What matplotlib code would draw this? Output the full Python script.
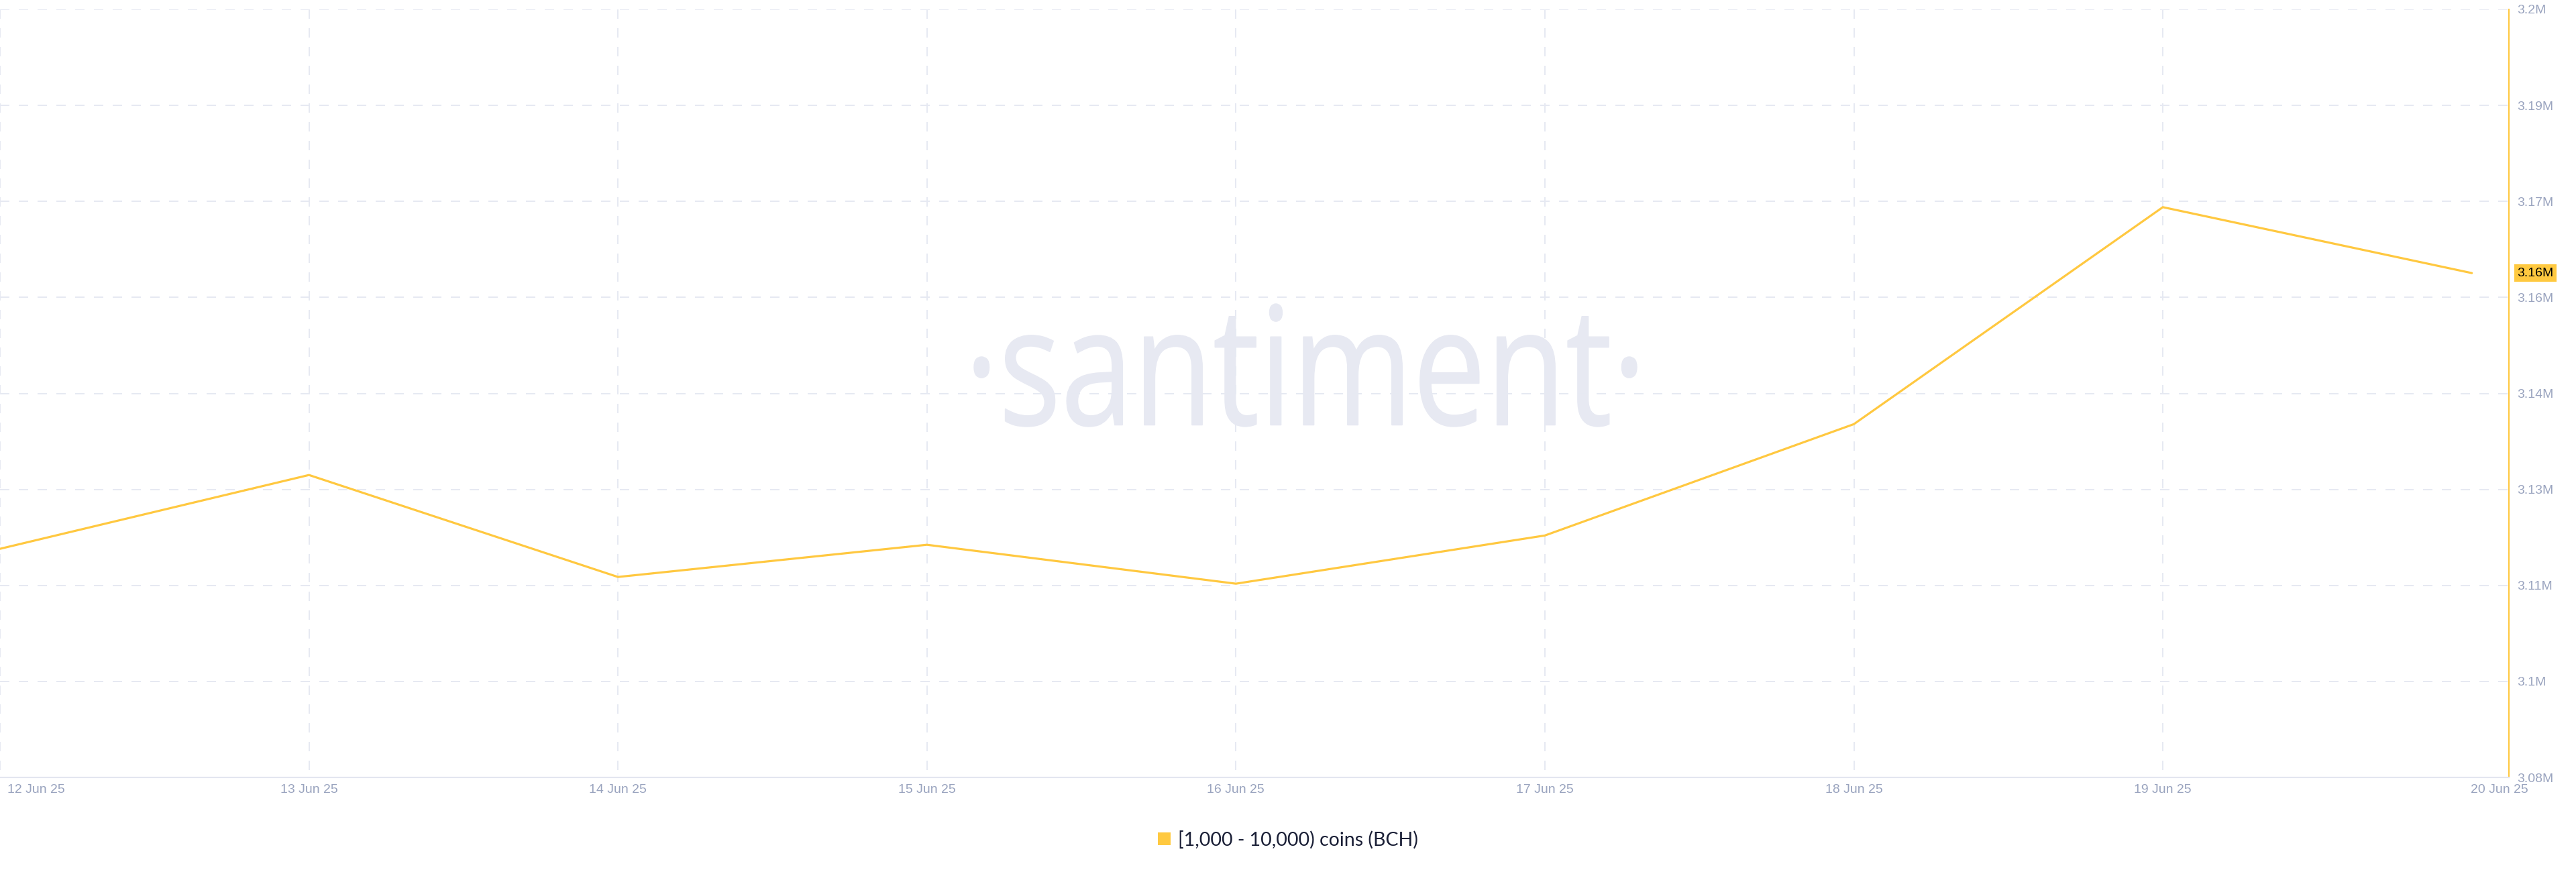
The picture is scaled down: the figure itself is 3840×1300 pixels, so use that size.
import matplotlib
matplotlib.use("Agg")
import matplotlib.pyplot as plt
from matplotlib.font_manager import FontProperties, fontManager
from matplotlib.textpath import TextPath
from matplotlib.patches import PathPatch, Patch
from matplotlib.transforms import Affine2D, IdentityTransform, ScaledTranslation, blended_transform_factory

# ---------------- data ----------------
dates = ["12 Jun 25", "13 Jun 25", "14 Jun 25", "15 Jun 25", "16 Jun 25",
         "17 Jun 25", "18 Jun 25", "19 Jun 25", "20 Jun 25"]
values = [3115720, 3127250, 3111320, 3116350, 3110270,
          3117800, 3135200, 3169100, 3158800]
y_ticks = [3080000, 3095000, 3110000, 3125000, 3140000,
           3155000, 3170000, 3185000, 3200000]
y_tick_labels = ["3.08M", "3.1M", "3.11M", "3.13M", "3.14M",
                 "3.16M", "3.17M", "3.19M", "3.2M"]
series_name = "[1,000 - 10,000) coins (BCH)"
watermark = "\u00b7santiment\u00b7"

# ---------------- style ----------------
W, H = 3840, 1300
DPI = 100
LINE_COLOR = "#FFC840"
GRID_COLOR = "#E6E9F2"
TICK_COLOR = "#9AA4BF"
AXIS_COLOR = "#E3E6F0"
WM_COLOR = "#E7E9F2"

avail = {f.name for f in fontManager.ttflist}
def pick(*names):
    return [n for n in names if n in avail] + ["DejaVu Sans"]

tick_font = pick("Liberation Sans", "Arial")
legend_font = pick("Lato", "Inter", "Liberation Sans")
wm_font = pick("Open Sans", "Noto Sans")

fig = plt.figure(figsize=(W / DPI, H / DPI), dpi=DPI)
fig.patch.set_facecolor("white")
ax = fig.add_axes([0, (H - 1159) / H, 3740 / W, (1159 - 14) / H])
ax.set_facecolor("none")

x = list(range(len(values)))
XMAX = 8.12
ax.set_xlim(0, XMAX)
ax.set_ylim(y_ticks[0], y_ticks[-1])

# watermark (drawn in pixel space, behind everything)
tp = TextPath((0, 0), watermark, size=100, prop=FontProperties(family=wm_font[0]))
ext = tp.get_extents()
x0, x1, ytop, ybot = 1452, 2440, 453, 636
tr = (Affine2D().translate(-ext.x0, -ext.y0)
      .scale((x1 - x0) / ext.width, (ybot - ytop) / ext.height)
      .translate(x0, H - ybot))
wm = PathPatch(tr.transform_path(tp), facecolor=WM_COLOR, edgecolor=WM_COLOR,
               linewidth=1.0, transform=IdentityTransform(), zorder=0.5)
ax.add_artist(wm)

# grid lines
dash = (0, (7, 7))
for yt in y_ticks[1:]:
    ax.axhline(yt, color=GRID_COLOR, lw=1.44, linestyle=dash, zorder=1)
for d in x[:-1]:
    ax.plot([d, d], [y_ticks[-1], y_ticks[0]], color=GRID_COLOR, lw=1.44,
            linestyle=dash, zorder=1, clip_on=False)

# series
ax.plot(x, values, color=LINE_COLOR, lw=2.3, zorder=3, clip_on=False,
        solid_joinstyle="round", solid_capstyle="round")

# spines
for s in ("top", "left"):
    ax.spines[s].set_visible(False)
ax.spines["right"].set_color(LINE_COLOR)
ax.spines["right"].set_linewidth(1.5)
ax.spines["bottom"].set_color(AXIS_COLOR)
ax.spines["bottom"].set_linewidth(1.5)

# y ticks (right)
ax.yaxis.tick_right()
ax.set_yticks(y_ticks)
ax.set_yticklabels(y_tick_labels)
ax.tick_params(axis="y", length=0, pad=8.5, labelsize=14, labelcolor=TICK_COLOR)
for lab in ax.get_yticklabels():
    lab.set_fontfamily(tick_font)

# x ticks
ax.set_xticks(x)
ax.set_xticklabels(dates)
ax.tick_params(axis="x", length=0, pad=7, labelsize=14, labelcolor=TICK_COLOR)
xl = ax.get_xticklabels()
for lab in xl:
    lab.set_fontfamily(tick_font)
xl[0].set_horizontalalignment("left")
xl[0].set_transform(xl[0].get_transform() + ScaledTranslation(11 / DPI, 0, fig.dpi_scale_trans))
xl[-1].set_transform(xl[-1].get_transform() + ScaledTranslation(41 / DPI, 0, fig.dpi_scale_trans))

# current value badge
btr = blended_transform_factory(ax.transAxes, ax.transData) + \
    ScaledTranslation(12 / DPI, 0, fig.dpi_scale_trans)
ax.text(1.0, values[-1], f"{values[-1] / 1e6:.2f}M", transform=btr,
        ha="left", va="center", fontsize=14, family=tick_font, color="black",
        bbox=dict(boxstyle="square,pad=0.22", fc="#FFC940", ec="none"),
        zorder=5, clip_on=False)

# legend
fig.legend(handles=[Patch(facecolor="#FFC940", edgecolor="none", label=series_name)],
           loc="center", bbox_to_anchor=(0.5, 1 - 1252 / H), frameon=False,
           prop=FontProperties(family=legend_font, size=20.5),
           handlelength=0.68, handleheight=0.68, handletextpad=0.4,
           labelcolor="#1A1F36", borderpad=0, borderaxespad=0)

fig.savefig("out.png", dpi=DPI, facecolor="white")
